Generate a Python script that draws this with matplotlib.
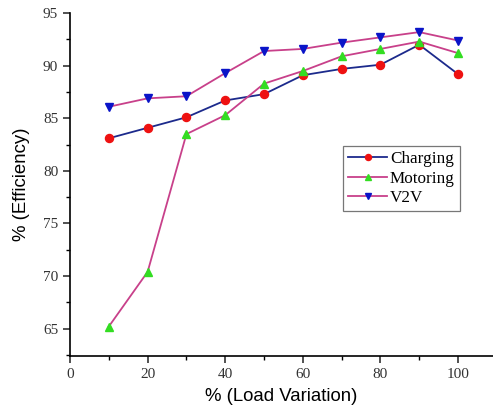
import matplotlib.pyplot as plt
from matplotlib.ticker import MultipleLocator

# load variation (%)
load = [10, 20, 30, 40, 50, 60, 70, 80, 90, 100]

# efficiency (%) per operating mode
charging = [83.1, 84.1, 85.1, 86.7, 87.3, 89.1, 89.7, 90.1, 92.0, 89.2]
motoring = [65.2, 70.4, 83.5, 85.3, 88.3, 89.5, 90.9, 91.6, 92.3, 91.2]
v2v = [86.1, 86.9, 87.1, 89.3, 91.4, 91.6, 92.2, 92.7, 93.2, 92.4]

fig = plt.figure(figsize=(4.93, 4.12), dpi=100)
ax = fig.add_axes([0.142, 0.136, 0.858, 0.832])

ax.plot(load, charging, color='#1c2a8c', lw=1.3, marker='o', ms=5.8,
        mfc='#ee1111', mec='#ee1111', label='Charging')
ax.plot(load, motoring, color='#c8408a', lw=1.3, marker='^', ms=5.8,
        mfc='#33dd22', mec='#33dd22', label='Motoring')
ax.plot(load, v2v, color='#c8408a', lw=1.3, marker='v', ms=5.8,
        mfc='#0a14c8', mec='#0a14c8', label='V2V')

ax.set_xlim(0, 109)
ax.set_ylim(62.4, 95)
ax.xaxis.set_major_locator(MultipleLocator(20))
ax.xaxis.set_minor_locator(MultipleLocator(10))
ax.yaxis.set_major_locator(MultipleLocator(5))
ax.yaxis.set_minor_locator(MultipleLocator(2.5))

for s in ['top', 'right']:
    ax.spines[s].set_visible(False)
for s in ['left', 'bottom']:
    ax.spines[s].set_linewidth(1.2)

ax.tick_params(which='major', direction='out', length=5, width=1.1,
               labelsize=11, colors='#222222')
ax.tick_params(which='minor', direction='out', length=3, width=1)
for lab in ax.get_xticklabels() + ax.get_yticklabels():
    lab.set_family('Liberation Serif')
    lab.set_color('#333333')

ax.set_xlabel('% (Load Variation)', family='Liberation Sans', fontsize=13.4, labelpad=5)
ax.set_ylabel('% (Efficiency)', family='Liberation Sans', fontsize=13.4, labelpad=9)

leg = ax.legend(loc='upper left', bbox_to_anchor=(0.645, 0.612), frameon=True,
                fancybox=False, edgecolor='#555555', handlelength=2.3,
                handletextpad=0.15, borderpad=0.3, labelspacing=0.2,
                borderaxespad=0, markerscale=0.75,
                prop={'family': 'Liberation Serif', 'size': 12.3})
leg.get_frame().set_linewidth(0.9)

plt.savefig('out.png', dpi=100)
